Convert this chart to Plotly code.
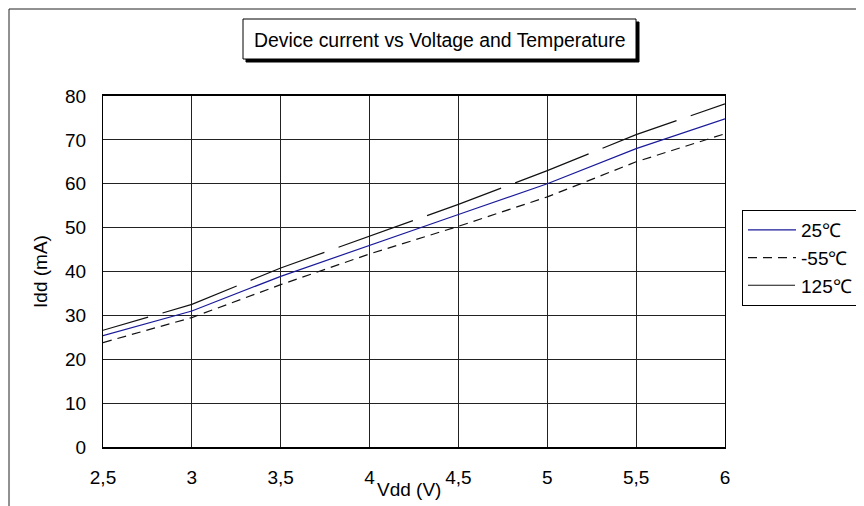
import plotly.graph_objects as go

vdd = [2.5, 3, 3.5, 4, 4.5, 5, 5.5, 6]
x_tick_labels = ["2,5", "3", "3,5", "4", "4,5", "5", "5,5", "6"]
idd_25 = [25.4, 31.0, 38.9, 46.0, 53.0, 60.0, 68.0, 74.8]
idd_m55 = [23.8, 29.5, 37.0, 44.0, 50.3, 57.0, 65.0, 71.4]
idd_125 = [26.6, 32.5, 40.8, 48.1, 55.3, 63.0, 71.2, 78.2]
series_names = ["25℃", "-55℃", "125℃"]
y_ticks = [0, 10, 20, 30, 40, 50, 60, 70, 80]

FONT = "Liberation Sans, Arial, sans-serif"
OFF = 8  # page body margin
W, H = 856, 498
L, R, T, B = 95, 139, 88, 59
PW, PH = W - L - R, H - T - B


def px(x):
    """page x pixel -> paper coordinate"""
    return (x - OFF - L) / PW


def py(y):
    """page y pixel -> paper coordinate"""
    return (H - B - (y - OFF)) / PH


long_dash = "47px,15px," + ",".join(["79px,15px"] * 10)

fig = go.Figure()
fig.add_trace(go.Scatter(x=vdd, y=idd_25, mode="lines", name=series_names[0],
                         legendgroup="a",
                         line=dict(color="#1a1a99", width=1.2)))
fig.add_trace(go.Scatter(x=vdd, y=idd_m55, mode="lines", name=series_names[1],
                         legendgroup="b",
                         line=dict(color="#111111", width=1.2, dash="9px,6px")))
fig.add_trace(go.Scatter(x=vdd, y=idd_125, mode="lines", name=series_names[2],
                         legendgroup="c",
                         line=dict(color="#111111", width=1.2, dash=long_dash)))

shapes = [
    # outer chart frame (top and left edges)
    dict(type="line", xref="paper", yref="paper", x0=px(9), x1=px(880), y0=py(9), y1=py(9),
         line=dict(color="#222222", width=1)),
    dict(type="line", xref="paper", yref="paper", x0=px(9), x1=px(9), y0=py(9), y1=py(530),
         line=dict(color="#222222", width=1)),
    # title box shadow and box
    dict(type="rect", xref="paper", yref="paper", x0=px(246), x1=px(639), y0=py(22), y1=py(62),
         fillcolor="black", line=dict(color="black", width=1)),
    dict(type="rect", xref="paper", yref="paper", x0=px(243), x1=px(636), y0=py(19), y1=py(59),
         fillcolor="white", line=dict(color="black", width=1)),
]

annotations = [
    dict(text="Device current vs Voltage and Temperature", xref="paper", yref="paper",
         x=px(440), y=py(40), xanchor="center", yanchor="middle", showarrow=False,
         font=dict(family=FONT, size=19.4, color="black")),
    dict(text="Vdd (V)", xref="paper", yref="paper",
         x=px(408.5), y=py(489), xanchor="center", yanchor="middle", showarrow=False,
         font=dict(family=FONT, size=19, color="black")),
]

fig.update_layout(
    width=W, height=H,
    margin=dict(l=L, r=R, t=T, b=B, pad=0, autoexpand=False),
    paper_bgcolor="white", plot_bgcolor="white",
    font=dict(family=FONT, size=19, color="black"),
    shapes=shapes,
    annotations=annotations,
    legend=dict(x=px(742), y=py(210), xanchor="left", yanchor="top",
                bordercolor="black", borderwidth=1, bgcolor="white",
                font=dict(family=FONT, size=19, color="black"),
                tracegroupgap=0, itemwidth=48),
    showlegend=True,
)

fig.update_xaxes(range=[2.5, 6], tickvals=vdd, ticktext=x_tick_labels,
                 showgrid=True, gridcolor="#222222", gridwidth=1,
                 showline=True, linecolor="black", linewidth=1.5, mirror=True,
                 zeroline=False, ticks="", ticklabelstandoff=12)
fig.update_yaxes(range=[0, 80], tickvals=y_ticks,
                 showgrid=True, gridcolor="#222222", gridwidth=1,
                 showline=True, linecolor="black", linewidth=1, mirror=True,
                 zeroline=False, ticks="", ticklabelstandoff=12,
                 title=dict(text="Idd (mA)", standoff=12, font=dict(size=19)))

fig.write_html("out.html")
